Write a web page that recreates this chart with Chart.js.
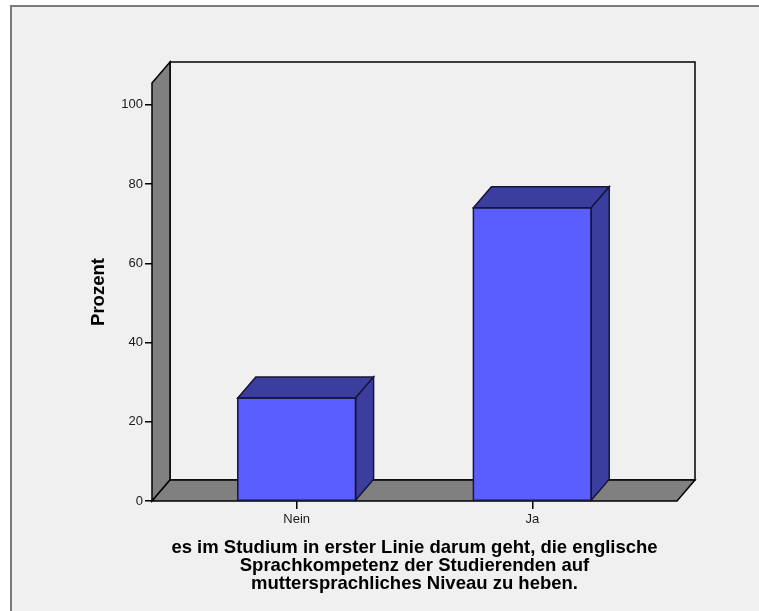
<!DOCTYPE html>
<html lang="de">
<head>
<meta charset="utf-8">
<title>Prozent</title>
<script src="https://cdn.jsdelivr.net/npm/chart.js@4.4.1/dist/chart.umd.min.js"></script>
<style>
  html, body { margin: 0; padding: 0; background: #ffffff; }
  canvas { display: block; }
</style>
</head>
<body>
<canvas id="chart" width="759" height="611"></canvas>
<script>
// --- Data ---
const categories = ['Nein', 'Ja'];
const percentValues = [26.0, 74.0];
const yTickValues = [0, 20, 40, 60, 80, 100];
const yTitle = 'Prozent';
const xTitleLines = [
    'es im Studium in erster Linie darum geht, die englische',
    'Sprachkompetenz der Studierenden auf',
    'muttersprachliches Niveau zu heben.'
];

// --- Look ---
const FONT = "'Liberation Sans', Arial, Helvetica, sans-serif";
const BG = '#f0f0f0';
const WALL = '#808080';
const BAR_FRONT = '#5b5eff';
const BAR_SHADE = '#3b3e9e';
const BAR_EDGE = '#16163a';
const DEPTH_X = 18;   // receding offset of the 3d box
const DEPTH_Y = 21;

function poly(ctx, pts, fill, stroke, lw) {
    ctx.beginPath();
    ctx.moveTo(pts[0][0], pts[0][1]);
    for (let i = 1; i < pts.length; i++) ctx.lineTo(pts[i][0], pts[i][1]);
    ctx.closePath();
    ctx.fillStyle = fill;
    ctx.fill();
    ctx.lineWidth = lw;
    ctx.strokeStyle = stroke;
    ctx.lineJoin = 'miter';
    ctx.stroke();
}

// background panel, walls, floor and the top/side faces of the bars
const boxPlugin = {
    id: 'box3d',
    beforeDraw(chart) {
        const { ctx, width, height } = chart;
        ctx.save();
        ctx.fillStyle = '#ffffff';
        ctx.fillRect(0, 0, width, height);
        ctx.fillStyle = BG;
        ctx.fillRect(11, 6, width - 11, height - 6);
        ctx.strokeStyle = '#7a7a7a';
        ctx.lineWidth = 2;
        ctx.beginPath();
        ctx.moveTo(11, height);
        ctx.lineTo(11, 6);
        ctx.lineTo(width, 6);
        ctx.stroke();
        ctx.restore();
    },
    beforeDatasetsDraw(chart) {
        const { ctx, chartArea: a } = chart;
        const dx = DEPTH_X, dy = DEPTH_Y;
        ctx.save();
        // back wall
        poly(ctx, [[a.left + dx, a.top - dy], [a.right + dx, a.top - dy],
                   [a.right + dx, a.bottom - dy], [a.left + dx, a.bottom - dy]], BG, '#000', 1.5);
        // left wall
        poly(ctx, [[a.left, a.top], [a.left + dx, a.top - dy],
                   [a.left + dx, a.bottom - dy], [a.left, a.bottom]], WALL, '#000', 1.5);
        // floor
        poly(ctx, [[a.left, a.bottom], [a.left + dx, a.bottom - dy],
                   [a.right + dx, a.bottom - dy], [a.right, a.bottom]], WALL, '#000', 1.5);
        ctx.restore();
    },
    afterDatasetsDraw(chart) {
        const { ctx } = chart;
        const dx = DEPTH_X, dy = DEPTH_Y;
        ctx.save();
        chart.getDatasetMeta(0).data.forEach(bar => {
            const p = bar.getProps(['x', 'y', 'base', 'width'], true);
            const l = p.x - p.width / 2, r = p.x + p.width / 2;
            const t = p.y, b = p.base;
            // top face
            poly(ctx, [[l, t], [l + dx, t - dy], [r + dx, t - dy], [r, t]], BAR_SHADE, BAR_EDGE, 1.5);
            // right side face
            poly(ctx, [[r, t], [r + dx, t - dy], [r + dx, b - dy], [r, b]], BAR_SHADE, BAR_EDGE, 1.5);
            // front outline
            ctx.lineWidth = 1.5;
            ctx.strokeStyle = BAR_EDGE;
            ctx.strokeRect(l, t, r - l, b - t);
        });
        ctx.restore();
    }
};

new Chart(document.getElementById('chart'), {
    type: 'bar',
    data: {
        datasets: [{
            data: categories.map((c, i) => ({ x: i, y: percentValues[i] })),
            backgroundColor: BAR_FRONT,
            borderWidth: 0,
            barPercentage: 0.5,
            categoryPercentage: 1.0
        }]
    },
    options: {
        responsive: false,
        animation: false,
        devicePixelRatio: 1,
        layout: { padding: { top: 83, right: 82, left: 0, bottom: 0 } },
        plugins: {
            legend: { display: false },
            tooltip: { enabled: false }
        },
        scales: {
            x: {
                type: 'linear',
                offset: false,
                min: -0.614,
                max: 1.614,
                afterBuildTicks: (scale) => { scale.ticks = categories.map((c, i) => ({ value: i })); },
                afterFit: (scale) => { scale.height = 110; },
                ticks: {
                    callback: (v) => categories[v],
                    color: '#1a1a1a',
                    font: { family: FONT, size: 13 },
                    padding: 3,
                    maxRotation: 0
                },
                grid: { offset: false, drawOnChartArea: false, drawTicks: true, tickLength: 8, color: '#000', lineWidth: 1.5 },
                border: { display: false },
                title: {
                    display: true,
                    text: xTitleLines,
                    color: '#000',
                    font: { family: FONT, size: 18.5, weight: 'bold', lineHeight: '18px' },
                    padding: { top: 0, bottom: 18 }
                }
            },
            y: {
                min: 0,
                max: 105.5,
                afterBuildTicks: (scale) => { scale.ticks = yTickValues.map(v => ({ value: v })); },
                afterFit: (scale) => { scale.width = 152; },
                ticks: {
                    color: '#1a1a1a',
                    font: { family: FONT, size: 13 },
                    padding: 2
                },
                grid: { drawOnChartArea: false, drawTicks: true, tickLength: 7, color: '#000', lineWidth: 1.5 },
                border: { display: false },
                title: {
                    display: true,
                    text: yTitle,
                    color: '#000',
                    font: { family: FONT, size: 18.5, weight: 'bold', lineHeight: '18px' },
                    padding: { top: 90, bottom: 0 }
                }
            }
        }
    },
    plugins: [boxPlugin]
});
</script>
</body>
</html>
